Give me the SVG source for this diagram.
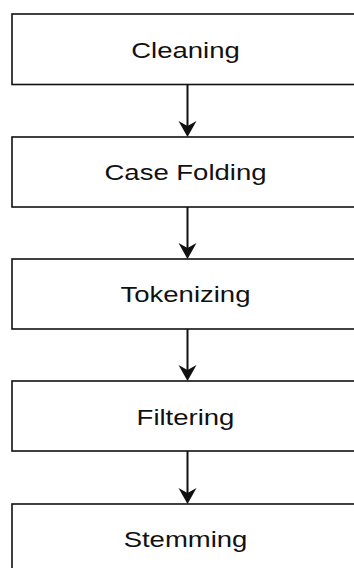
<svg xmlns="http://www.w3.org/2000/svg" width="354" height="568" viewBox="0 0 354 568">
<defs>
<style>
.box{fill:#fff;stroke:#111;stroke-width:1.6}
.lbl{font-family:"Liberation Sans",Arial,sans-serif;font-size:22px;fill:#111;text-anchor:middle}
.edge{stroke:#111;stroke-width:2;fill:none}
.head{fill:#111;stroke:none}
</style>
</defs>
<rect width="354" height="568" fill="#fff"/>
<g id="cleaning">
<rect class="box" x="12" y="14" width="350" height="70.5"/>
<text class="lbl" transform="translate(185.5,57.5) scale(1.25,1)">Cleaning</text>
</g>
<g id="case-folding">
<rect class="box" x="12" y="137" width="350" height="70"/>
<text class="lbl" transform="translate(185.5,180) scale(1.25,1)">Case Folding</text>
</g>
<g id="tokenizing">
<rect class="box" x="12" y="259" width="350" height="70"/>
<text class="lbl" transform="translate(185.5,302) scale(1.25,1)">Tokenizing</text>
</g>
<g id="filtering">
<rect class="box" x="12" y="381" width="350" height="70"/>
<text class="lbl" transform="translate(185.5,424.5) scale(1.25,1)">Filtering</text>
</g>
<g id="stemming">
<rect class="box" x="12" y="504" width="350" height="70"/>
<text class="lbl" transform="translate(185.5,547) scale(1.25,1)">Stemming</text>
</g>
<g id="connectors">
<line class="edge" x1="187.5" y1="84.5" x2="187.5" y2="126"/>
<polygon class="head" points="187.5,137 178.5,121 187.5,126 196.5,121"/>
<line class="edge" x1="187.5" y1="207" x2="187.5" y2="248"/>
<polygon class="head" points="187.5,259 178.5,243 187.5,248 196.5,243"/>
<line class="edge" x1="187.5" y1="329" x2="187.5" y2="370"/>
<polygon class="head" points="187.5,381 178.5,365 187.5,370 196.5,365"/>
<line class="edge" x1="187.5" y1="451" x2="187.5" y2="493"/>
<polygon class="head" points="187.5,504 178.5,488 187.5,493 196.5,488"/>
</g>
</svg>
